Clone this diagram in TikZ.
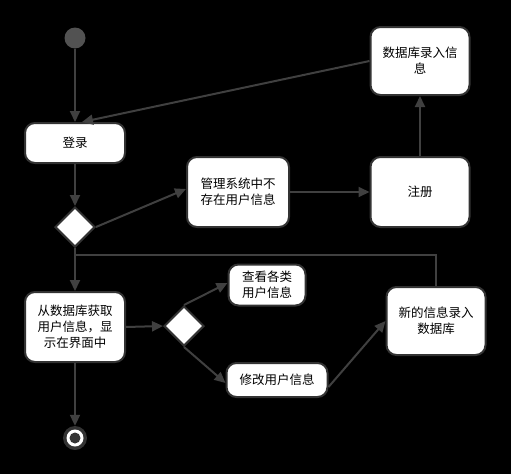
\documentclass[tikz,border=0pt]{standalone}
\usepackage{fontspec}
\setmainfont{Noto Sans CJK SC}
\usetikzlibrary{arrows.meta,shapes.geometric}
\definecolor{edgegray}{HTML}{404040}
\definecolor{bordergray}{HTML}{333333}
\begin{document}
\begin{tikzpicture}[x=1pt,y=-1pt,
  box/.style={draw=bordergray,line width=2pt,fill=white,rounded corners=10pt,
    align=center,font=\fontsize{12.5pt}{16pt}\selectfont,inner sep=0pt},
  dec/.style={draw=bordergray,line width=2pt,fill=white,diamond,aspect=1,
    minimum width=40pt,minimum height=40pt,inner sep=0pt},
  flow/.style={draw=edgegray,line width=2pt,-{Triangle[length=11pt,width=10pt]}},
  plain/.style={draw=edgegray,line width=1.6pt}]
\fill[black] (0,0) rectangle (511,474);
\useasboundingbox (0,0) rectangle (511,474);
% nodes
\node[circle,fill=bordergray!85!white,minimum size=21pt,inner sep=0pt] (start) at (75,38) {};
\node[box,minimum width=100pt,minimum height=40pt] (login) at (75,143) {登录};
\node[dec] (d1) at (75,227) {};
\node[box,minimum width=102pt,minimum height=70pt] (mgmt) at (238,192) {管理系统中不\\存在用户信息};
\node[box,minimum width=99pt,minimum height=70pt] (reg) at (420,192) {注册};
\node[box,minimum width=99pt,minimum height=68pt] (db) at (420,61) {数据库录入信\\息};
\node[box,minimum width=100pt,minimum height=70pt] (fetch) at (75,327) {从数据库获取\\用户信息，显\\示在界面中};
\node[dec] (d2) at (184,326) {};
\node[box,minimum width=77pt,minimum height=41pt] (view) at (267,285) {查看各类\\用户信息};
\node[box,minimum width=101pt,minimum height=34pt] (edit) at (277,380) {修改用户信息};
\node[box,minimum width=99pt,minimum height=68pt] (newdb) at (436,321) {新的信息录入\\数据库};
\node[circle,fill=bordergray,minimum size=24pt,inner sep=0pt] (end) at (75,438) {};
\node[circle,fill=white,minimum size=17pt,inner sep=0pt] (endring) at (75,438) {};
\node[circle,fill=bordergray,minimum size=11pt,inner sep=0pt] (endcore) at (75,438) {};
\coordinate (loopa) at (436,255);
\coordinate (loopb) at (75,255);
% connectors
\draw[flow] (start) -- (login.north);
\draw[flow] (db.west) -- ([xshift=7pt]login.north);
\draw[flow] (login) -- (d1.north);
\draw[flow] (d1.east) -- ([yshift=3pt]mgmt.west);
\draw[flow] (mgmt) -- (reg);
\draw[flow] (reg) -- (db);
\draw[flow] (d1.south) -- (fetch.north);
\draw[plain] (newdb.north) -- (loopa) -- (loopb);
\draw[flow] (fetch.east) -- (d2.west);
\draw[flow] (d2.north) -- ([yshift=2pt]view.west);
\draw[flow] (d2.south) -- ([yshift=-3pt]edit.west);
\draw[flow] ([yshift=-7pt]edit.east) -- (newdb.west);
\draw[flow] (fetch.south) -- (end.north);
\end{tikzpicture}
\end{document}
